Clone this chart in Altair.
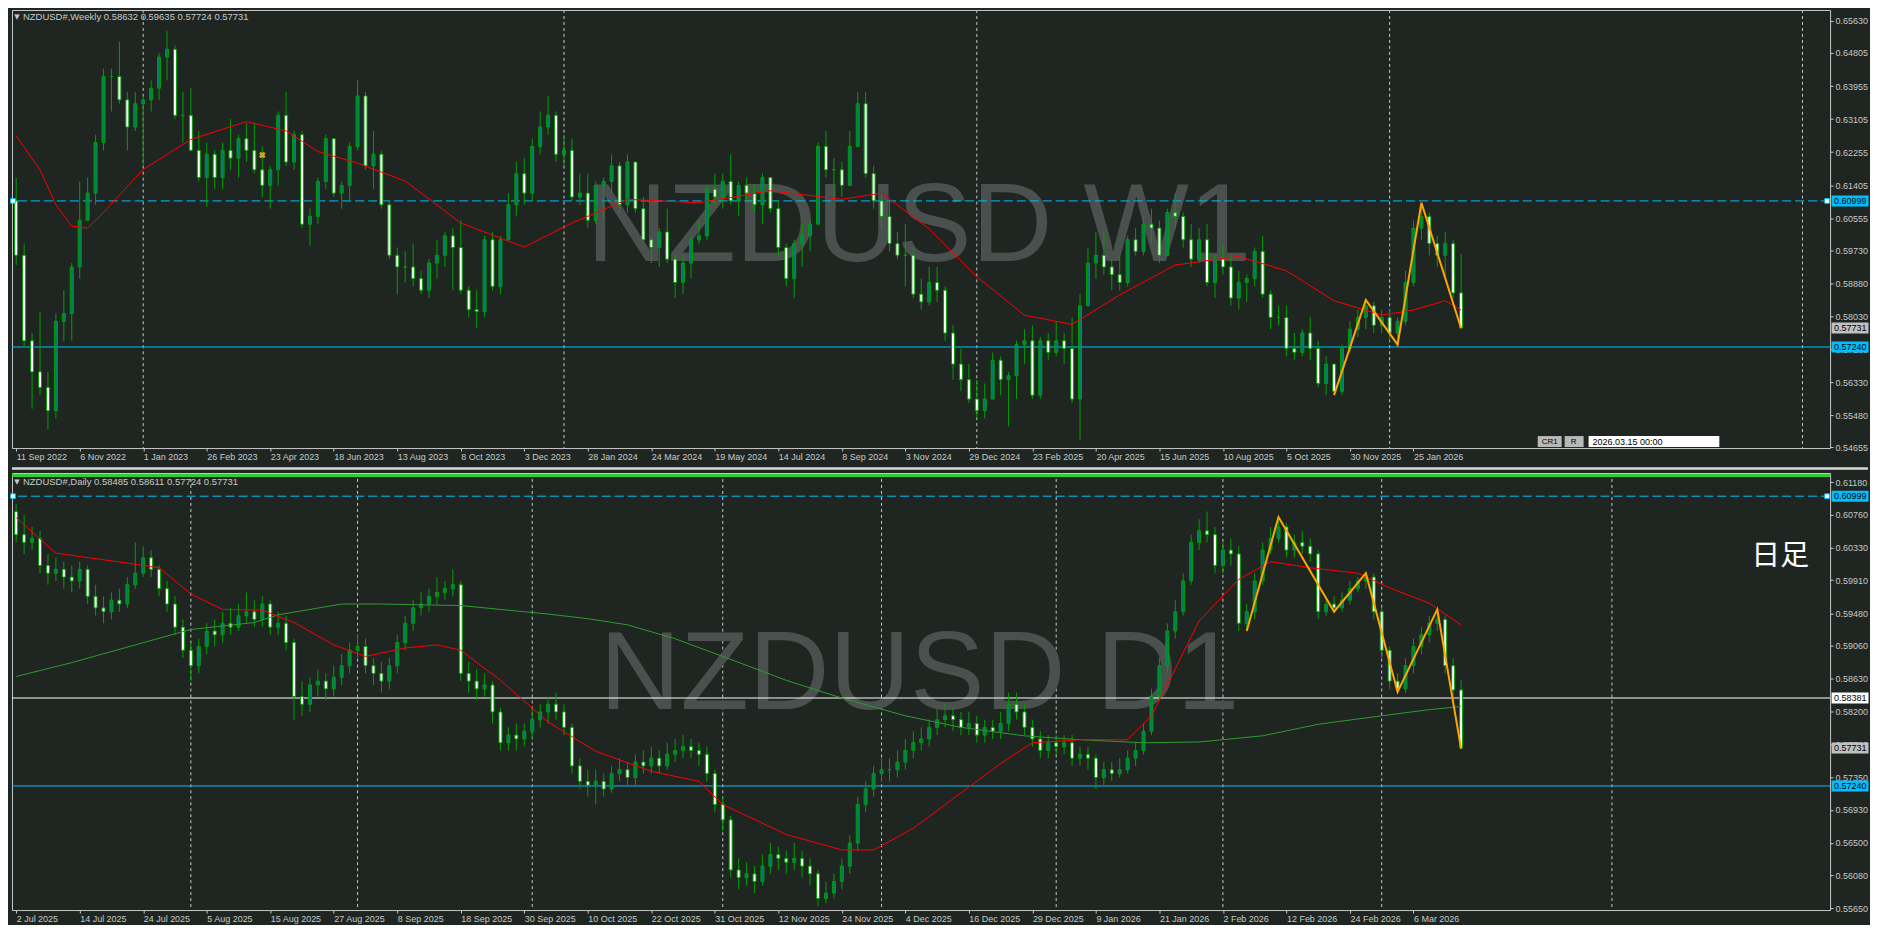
import json
import altair as alt
import pandas as pd

BG = "#1f2622"
FRAME = "#c8c8c8"
GREEN = "#00a000"
TEAL = "#007a70"
CYAN = "#00bfff"
TXT = "#c8c8c8"
FONT = "Liberation Sans"

W = 1822
H_TOP = 439
H_BOT = 438

# ---------------- tick labels ----------------
week_labels = ["11 Sep 2022", "6 Nov 2022", "1 Jan 2023", "26 Feb 2023", "23 Apr 2023", "18 Jun 2023",
               "13 Aug 2023", "8 Oct 2023", "3 Dec 2023", "28 Jan 2024", "24 Mar 2024", "19 May 2024",
               "14 Jul 2024", "8 Sep 2024", "3 Nov 2024", "29 Dec 2024", "23 Feb 2025", "20 Apr 2025",
               "15 Jun 2025", "10 Aug 2025", "5 Oct 2025", "30 Nov 2025", "25 Jan 2026"]
day_labels = ["2 Jul 2025", "14 Jul 2025", "24 Jul 2025", "5 Aug 2025", "15 Aug 2025", "27 Aug 2025",
              "8 Sep 2025", "18 Sep 2025", "30 Sep 2025", "10 Oct 2025", "22 Oct 2025", "31 Oct 2025",
              "12 Nov 2025", "24 Nov 2025", "4 Dec 2025", "16 Dec 2025", "29 Dec 2025", "9 Jan 2026",
              "21 Jan 2026", "2 Feb 2026", "12 Feb 2026", "24 Feb 2026", "6 Mar 2026"]
week_price_ticks = [0.6563, 0.64805, 0.63955, 0.63105, 0.62255, 0.61405, 0.60555, 0.5973, 0.5888,
                    0.5803, 0.5718, 0.5633, 0.5548, 0.54655]
day_price_ticks = [0.6118, 0.6076, 0.6033, 0.5991, 0.5948, 0.5906, 0.5863, 0.582, 0.5778, 0.5735,
                   0.5693, 0.565, 0.5608, 0.5565]

# ---------------- weekly candles ----------------
w_open_first = 0.6100
w_close = [0.5960, 0.5740, 0.5660, 0.5620, 0.5560, 0.5790, 0.5810, 0.5930, 0.6050, 0.6120,
           0.6250, 0.6420, 0.6420, 0.6360, 0.6290, 0.6350, 0.6360, 0.6390, 0.6470, 0.6490,
           0.6320, 0.6320, 0.6230, 0.6160, 0.6220, 0.6160, 0.6230, 0.6210, 0.6260, 0.6230,
           0.6180, 0.6140, 0.6180, 0.6320, 0.6200, 0.6270, 0.6040, 0.6060, 0.6150, 0.6260,
           0.6120, 0.6140, 0.6240, 0.6370, 0.6190, 0.6220, 0.6090, 0.5960, 0.5930, 0.5930,
           0.5900, 0.5870, 0.5940, 0.5960, 0.6010, 0.5980, 0.5870, 0.5820, 0.5815, 0.6000,
           0.5880, 0.6000, 0.6090, 0.6170, 0.6120, 0.6240, 0.6290, 0.6320, 0.6220, 0.6230,
           0.6110, 0.6120, 0.6050, 0.6140, 0.6150, 0.6190, 0.6090, 0.6200, 0.6080, 0.6000,
           0.5980, 0.6020, 0.5950, 0.5890, 0.5940, 0.6000, 0.6010, 0.6130, 0.6110, 0.6150,
           0.6100, 0.6140, 0.6120, 0.6090, 0.6160, 0.6080, 0.5980, 0.5900, 0.5990, 0.6010,
           0.6040, 0.6240, 0.6180, 0.6180, 0.6140, 0.6240, 0.6350, 0.6170, 0.6100, 0.6060,
           0.5990, 0.5960, 0.5960, 0.5860, 0.5840, 0.5890, 0.5870, 0.5760, 0.5680, 0.5640,
           0.5590, 0.5560, 0.5590, 0.5690, 0.5640, 0.5650, 0.5730, 0.5740, 0.5600, 0.5740,
           0.5710, 0.5740, 0.5720, 0.5590, 0.5830, 0.5940, 0.5960, 0.5930, 0.5910, 0.5890,
           0.6000, 0.5970, 0.6040, 0.6030, 0.5960, 0.6070, 0.6060, 0.6000, 0.5950, 0.6000,
           0.5890, 0.5950, 0.5930, 0.5850, 0.5890, 0.5900, 0.5970, 0.5860, 0.5800, 0.5800,
           0.5720, 0.5710, 0.5760, 0.5720, 0.5630, 0.5680, 0.5610, 0.5720, 0.5770, 0.5800,
           0.5830, 0.5780, 0.5800, 0.5760, 0.5790, 0.5890, 0.6030, 0.6060, 0.5990, 0.5960,
           0.5990, 0.58632, 0.57731]
w_high = [0.6160, 0.5990, 0.5760, 0.5815, 0.5660, 0.5810, 0.5870, 0.5940, 0.6150, 0.6160,
          0.6270, 0.6440, 0.6440, 0.6510, 0.6380, 0.6380, 0.6370, 0.6410, 0.6480, 0.6538,
          0.6500, 0.6380, 0.6390, 0.6280, 0.6250, 0.6230, 0.6250, 0.6310, 0.6270, 0.6300,
          0.6300, 0.6240, 0.6190, 0.6330, 0.6380, 0.6280, 0.6280, 0.6080, 0.6160, 0.6270,
          0.6240, 0.6150, 0.6250, 0.6410, 0.6380, 0.6280, 0.6230, 0.6100, 0.5980, 0.5970,
          0.5990, 0.5920, 0.5950, 0.6000, 0.6020, 0.6030, 0.6050, 0.5880, 0.5870, 0.6010,
          0.6020, 0.6010, 0.6120, 0.6200, 0.6210, 0.6260, 0.6330, 0.6370, 0.6330, 0.6270,
          0.6260, 0.6170, 0.6170, 0.6150, 0.6160, 0.6220, 0.6200, 0.6220, 0.6200, 0.6110,
          0.6010, 0.6030, 0.6080, 0.5960, 0.5960, 0.6010, 0.6050, 0.6140, 0.6170, 0.6170,
          0.6220, 0.6150, 0.6160, 0.6140, 0.6170, 0.6160, 0.6100, 0.5990, 0.6000, 0.6040,
          0.6050, 0.6250, 0.6280, 0.6210, 0.6200, 0.6280, 0.6380, 0.6380, 0.6190, 0.6120,
          0.6100, 0.6020, 0.6040, 0.5980, 0.5900, 0.5930, 0.5930, 0.5880, 0.5780, 0.5720,
          0.5680, 0.5640, 0.5630, 0.5710, 0.5700, 0.5660, 0.5740, 0.5770, 0.5780, 0.5750,
          0.5760, 0.5790, 0.5760, 0.5800, 0.5860, 0.5980, 0.6020, 0.6020, 0.5950, 0.5960,
          0.6010, 0.6030, 0.6060, 0.6080, 0.6050, 0.6080, 0.6120, 0.6070, 0.6040, 0.6030,
          0.6040, 0.5960, 0.5990, 0.5960, 0.5920, 0.5910, 0.5980, 0.6010, 0.5870, 0.5830,
          0.5830, 0.5760, 0.5770, 0.5800, 0.5740, 0.5700, 0.5680, 0.5730, 0.5790, 0.5820,
          0.5845, 0.5840, 0.5820, 0.5820, 0.5800, 0.5920, 0.6050, 0.6095, 0.6070, 0.6010,
          0.6020, 0.6000, 0.59635]
w_low = [0.5935, 0.5725, 0.5565, 0.5600, 0.5512, 0.5540, 0.5740, 0.5740, 0.5900, 0.6060,
         0.6090, 0.6230, 0.6330, 0.6350, 0.6230, 0.6280, 0.6190, 0.6330, 0.6360, 0.6410,
         0.6310, 0.6250, 0.6230, 0.6150, 0.6085, 0.6130, 0.6130, 0.6180, 0.6160, 0.6200,
         0.6170, 0.6110, 0.6080, 0.6140, 0.6190, 0.6180, 0.6030, 0.5985, 0.6040, 0.6130,
         0.6110, 0.6080, 0.6100, 0.6230, 0.6180, 0.6130, 0.6080, 0.5950, 0.5860, 0.5890,
         0.5880, 0.5860, 0.5850, 0.5900, 0.5930, 0.5870, 0.5860, 0.5800, 0.5772, 0.5800,
         0.5870, 0.5860, 0.6000, 0.6060, 0.6090, 0.6100, 0.6220, 0.6270, 0.6200, 0.6190,
         0.6100, 0.6090, 0.6030, 0.6040, 0.6050, 0.6120, 0.6070, 0.6070, 0.6070, 0.5990,
         0.5940, 0.5930, 0.5940, 0.5850, 0.5860, 0.5900, 0.5990, 0.6000, 0.6090, 0.6080,
         0.6090, 0.6060, 0.6100, 0.6070, 0.6040, 0.6070, 0.5960, 0.5880, 0.5850, 0.5930,
         0.5970, 0.6040, 0.6160, 0.6100, 0.6110, 0.6140, 0.6240, 0.6160, 0.6080, 0.6030,
         0.5970, 0.5950, 0.5880, 0.5850, 0.5820, 0.5830, 0.5840, 0.5740, 0.5640, 0.5610,
         0.5580, 0.5540, 0.5540, 0.5590, 0.5600, 0.5520, 0.5590, 0.5680, 0.5590, 0.5590,
         0.5690, 0.5700, 0.5680, 0.5580, 0.5485, 0.5830, 0.5900, 0.5910, 0.5870, 0.5870,
         0.5880, 0.5960, 0.5960, 0.5990, 0.5940, 0.5960, 0.6030, 0.5980, 0.5930, 0.5940,
         0.5880, 0.5850, 0.5910, 0.5830, 0.5820, 0.5840, 0.5880, 0.5850, 0.5770, 0.5780,
         0.5700, 0.5690, 0.5700, 0.5690, 0.5620, 0.5600, 0.5600, 0.5600, 0.5710, 0.5750,
         0.5770, 0.5760, 0.5760, 0.5740, 0.5730, 0.5780, 0.5880, 0.6000, 0.5960, 0.5930,
         0.5900, 0.5850, 0.57724]

# weekly red moving average, read at points: (bar, price)
w_ma_bar = [0, 3, 5, 7, 9, 11, 13, 16, 22, 29, 34, 38, 43, 49, 56, 64, 70, 77, 86, 95, 104, 109,
            115, 121, 127, 133, 139, 146, 154, 160, 166, 172, 176, 180, 182]
w_ma_val = [0.6267, 0.6180, 0.6090, 0.6035, 0.6030, 0.6070, 0.6115, 0.6181, 0.6258, 0.6304,
            0.6280, 0.6227, 0.6197, 0.6151, 0.6043, 0.5981, 0.6043, 0.6104, 0.6095, 0.6126,
            0.6104, 0.6120, 0.6028, 0.5905, 0.5806, 0.5782, 0.5858, 0.5935, 0.5957, 0.5920,
            0.5843, 0.5806, 0.5819, 0.5843, 0.5819]
w_zz_bar = [166, 170, 174, 177, 182]
w_zz_val = [0.5600, 0.5845, 0.5730, 0.6095, 0.57724]
w_year_bars = [16, 69, 121, 173, 225]
# small chart object (arrow marker) on the weekly chart
w_obj_bar = [31.0]
w_obj_val = [0.6218]

# ---------------- daily candles ----------------
d_open_first = 0.6080
d_close = [0.6050, 0.6040, 0.6045, 0.6010, 0.6000, 0.6005, 0.5995, 0.5990, 0.6005, 0.5970,
           0.5955, 0.5950, 0.5965, 0.5960, 0.5985, 0.6000, 0.6020, 0.6005, 0.5980, 0.5960,
           0.5930, 0.5900, 0.5880, 0.5905, 0.5925, 0.5920, 0.5935, 0.5930, 0.5945, 0.5950,
           0.5940, 0.5960, 0.5930, 0.5935, 0.5910, 0.5840, 0.5830, 0.5855, 0.5860, 0.5850,
           0.5865, 0.5880, 0.5900, 0.5905, 0.5880, 0.5870, 0.5860, 0.5880, 0.5910, 0.5935,
           0.5955, 0.5960, 0.5970, 0.5975, 0.5980, 0.5985, 0.5870, 0.5860, 0.5850, 0.5855,
           0.5820, 0.5780, 0.5790, 0.5785, 0.5795, 0.5810, 0.5820, 0.5830, 0.5820, 0.5800,
           0.5750, 0.5730, 0.5725, 0.5730, 0.5720, 0.5740, 0.5745, 0.5735, 0.5755, 0.5750,
           0.5760, 0.5750, 0.5765, 0.5770, 0.5775, 0.5770, 0.5765, 0.5740, 0.5700, 0.5680,
           0.5615, 0.5605, 0.5610, 0.5600, 0.5620, 0.5635, 0.5630, 0.5625, 0.5630, 0.5620,
           0.5610, 0.5578, 0.5585, 0.5600, 0.5620, 0.5650, 0.5700, 0.5720, 0.5740, 0.5745,
           0.5745, 0.5755, 0.5770, 0.5780, 0.5785, 0.5800, 0.5810, 0.5815, 0.5810, 0.5800,
           0.5805, 0.5790, 0.5800, 0.5795, 0.5805, 0.5830, 0.5820, 0.5800, 0.5785, 0.5770,
           0.5780, 0.5775, 0.5780, 0.5760, 0.5765, 0.5760, 0.5735, 0.5745, 0.5740, 0.5745,
           0.5760, 0.5770, 0.5795, 0.5840, 0.5880, 0.5925, 0.5950, 0.5990, 0.6040, 0.6055,
           0.6050, 0.6010, 0.6030, 0.6025, 0.5935, 0.5950, 0.5990, 0.6030, 0.6045, 0.6060,
           0.6030, 0.6040, 0.6035, 0.6025, 0.5950, 0.5960, 0.5955, 0.5965, 0.5980, 0.5990,
           0.5995, 0.5950, 0.5900, 0.5860, 0.5850, 0.5880, 0.5905, 0.5920, 0.5935, 0.5940,
           0.5880, 0.58485, 0.57731]
d_high = [0.6090, 0.6075, 0.6060, 0.6055, 0.6025, 0.6020, 0.6015, 0.6010, 0.6015, 0.6010,
          0.5985, 0.5970, 0.5975, 0.5980, 0.5995, 0.6040, 0.6035, 0.6030, 0.6010, 0.5990,
          0.5970, 0.5940, 0.5910, 0.5915, 0.5935, 0.5940, 0.5950, 0.5955, 0.5960, 0.5975,
          0.5965, 0.5970, 0.5965, 0.5950, 0.5945, 0.5915, 0.5860, 0.5865, 0.5875, 0.5870,
          0.5880, 0.5895, 0.5910, 0.5920, 0.5915, 0.5890, 0.5885, 0.5890, 0.5920, 0.5945,
          0.5965, 0.5975, 0.5980, 0.5995, 0.5990, 0.6005, 0.5990, 0.5885, 0.5875, 0.5870,
          0.5860, 0.5825, 0.5800, 0.5805, 0.5805, 0.5825, 0.5830, 0.5840, 0.5845, 0.5830,
          0.5805, 0.5760, 0.5745, 0.5745, 0.5740, 0.5750, 0.5760, 0.5755, 0.5765, 0.5770,
          0.5775, 0.5770, 0.5780, 0.5785, 0.5790, 0.5785, 0.5780, 0.5775, 0.5745, 0.5710,
          0.5685, 0.5630, 0.5625, 0.5620, 0.5635, 0.5650, 0.5645, 0.5640, 0.5650, 0.5640,
          0.5630, 0.5615, 0.5600, 0.5610, 0.5630, 0.5660, 0.5710, 0.5730, 0.5750, 0.5760,
          0.5760, 0.5770, 0.5785, 0.5795, 0.5800, 0.5810, 0.5825, 0.5830, 0.5825, 0.5820,
          0.5820, 0.5815, 0.5810, 0.5810, 0.5820, 0.5845, 0.5845, 0.5830, 0.5810, 0.5795,
          0.5790, 0.5790, 0.5790, 0.5790, 0.5775, 0.5775, 0.5765, 0.5755, 0.5755, 0.5760,
          0.5770, 0.5780, 0.5805, 0.5850, 0.5890, 0.5935, 0.5965, 0.6000, 0.6050, 0.6070,
          0.6080, 0.6060, 0.6040, 0.6045, 0.6035, 0.5960, 0.6000, 0.6040, 0.6060, 0.6073,
          0.6065, 0.6050, 0.6055, 0.6045, 0.6030, 0.5970, 0.5970, 0.5975, 0.5990, 0.5995,
          0.6000, 0.6000, 0.5955, 0.5905, 0.5870, 0.5890, 0.5915, 0.5930, 0.5945, 0.5953,
          0.5945, 0.5890, 0.58611]
d_low = [0.6040, 0.6025, 0.6030, 0.6000, 0.5985, 0.5990, 0.5980, 0.5975, 0.5980, 0.5960,
         0.5945, 0.5935, 0.5940, 0.5950, 0.5955, 0.5980, 0.5995, 0.5995, 0.5970, 0.5950,
         0.5920, 0.5890, 0.5860, 0.5870, 0.5895, 0.5905, 0.5910, 0.5920, 0.5925, 0.5935,
         0.5930, 0.5930, 0.5920, 0.5920, 0.5900, 0.5810, 0.5815, 0.5820, 0.5840, 0.5835,
         0.5840, 0.5855, 0.5870, 0.5890, 0.5870, 0.5855, 0.5845, 0.5850, 0.5870, 0.5900,
         0.5925, 0.5945, 0.5950, 0.5960, 0.5965, 0.5970, 0.5860, 0.5845, 0.5835, 0.5840,
         0.5805, 0.5770, 0.5770, 0.5770, 0.5775, 0.5785, 0.5800, 0.5805, 0.5810, 0.5790,
         0.5740, 0.5720, 0.5710, 0.5700, 0.5710, 0.5715, 0.5730, 0.5725, 0.5725, 0.5740,
         0.5740, 0.5740, 0.5745, 0.5755, 0.5760, 0.5760, 0.5750, 0.5730, 0.5690, 0.5665,
         0.5605, 0.5590, 0.5595, 0.5585, 0.5595, 0.5610, 0.5615, 0.5610, 0.5615, 0.5605,
         0.5595, 0.5568, 0.5572, 0.5578, 0.5590, 0.5610, 0.5640, 0.5690, 0.5710, 0.5730,
         0.5730, 0.5735, 0.5745, 0.5760, 0.5770, 0.5775, 0.5790, 0.5800, 0.5795, 0.5790,
         0.5790, 0.5780, 0.5780, 0.5785, 0.5785, 0.5795, 0.5810, 0.5790, 0.5775, 0.5760,
         0.5760, 0.5765, 0.5765, 0.5750, 0.5750, 0.5745, 0.5720, 0.5725, 0.5730, 0.5735,
         0.5740, 0.5750, 0.5765, 0.5790, 0.5835, 0.5870, 0.5915, 0.5945, 0.5985, 0.6030,
         0.6040, 0.6000, 0.6000, 0.6010, 0.5925, 0.5925, 0.5940, 0.5985, 0.6025, 0.6040,
         0.6020, 0.6020, 0.6025, 0.6015, 0.5940, 0.5945, 0.5950, 0.5950, 0.5960, 0.5975,
         0.5980, 0.5940, 0.5890, 0.5850, 0.5846, 0.5845, 0.5870, 0.5895, 0.5910, 0.5925,
         0.5870, 0.5840, 0.57724]

# daily moving averages, read at points: (bar, price)
d_red_bar = [0, 5, 14, 18, 22, 26, 31, 35, 40, 44, 49, 53, 56, 61, 67, 73, 80, 86, 89, 97,
             104, 108, 113, 119, 124, 128, 134, 140, 143, 146, 149, 154, 158, 163, 169, 173, 178, 182]
d_red_val = [0.6072, 0.6026, 0.6013, 0.6007, 0.5973, 0.5953, 0.5952, 0.5936, 0.5907, 0.5892,
             0.5903, 0.5907, 0.5900, 0.5861, 0.5807, 0.5769, 0.5743, 0.5730, 0.5700, 0.5661,
             0.5641, 0.5641, 0.5669, 0.5715, 0.5753, 0.5780, 0.5784, 0.5784, 0.5815, 0.5876,
             0.5938, 0.5992, 0.6015, 0.6007, 0.6000, 0.5981, 0.5961, 0.5933]
d_green_bar = [0, 7, 15, 22, 30, 33, 41, 46, 56, 61, 67, 72, 77, 83, 89, 97, 104, 112, 119,
               127, 134, 142, 149, 157, 164, 172, 178, 182]
d_green_val = [0.5866, 0.5884, 0.5907, 0.5927, 0.5936, 0.5946, 0.5960, 0.5960, 0.5958, 0.5953,
               0.5947, 0.5941, 0.5933, 0.5915, 0.5892, 0.5861, 0.5838, 0.5815, 0.5800, 0.5789,
               0.5784, 0.5780, 0.5781, 0.5789, 0.5804, 0.5815, 0.5823, 0.5827]
d_zz_bar = [155, 159, 166, 170, 174, 179, 182]
d_zz_val = [0.5925, 0.6073, 0.5950, 0.6000, 0.5846, 0.5953, 0.57724]
d_month_bars = [22, 43, 65, 89, 109, 131, 152, 172, 201]

# ---------------- helpers ----------------
x_scale = alt.Scale(domain=[0.1, 0.1 + W / 8.0], nice=False, zero=False)
yw_scale = alt.Scale(domain=[0.5464, 0.65912], nice=False, zero=False)
yd_scale = alt.Scale(domain=[0.5563, 0.6130], nice=False, zero=False)


def x_axis(labels):
    arr = json.dumps(labels)
    return alt.Axis(values=list(range(0, 8 * len(labels), 8)), labelExpr=arr + "[round(datum.value/8)]",
                    orient="bottom", grid=False, domain=False, tickSize=3, tickColor=FRAME,
                    labelAlign="left", labelBaseline="top", labelPadding=1, labelFont=FONT,
                    labelFontSize=9, labelColor=TXT, labelOverlap=False, title=None)


def y_axis(vals):
    return alt.Axis(values=vals, format=".5f", orient="right", grid=False, domain=False, tickSize=3,
                    tickColor=FRAME, labelPadding=2, labelFont=FONT, labelFontSize=9, labelColor=TXT,
                    labelOverlap=False, labelBaseline="middle", title=None)


def make_candles(o0, close, high, low):
    opens = [o0] + close[:-1]
    return pd.DataFrame({"i": list(range(len(close))), "open": opens, "close": close, "high": high,
                         "low": low, "dir": ["up" if c > o else "down" for o, c in zip(opens, close)]})


def panel(df, ysc, xax, yax, ma_lines, zz_bar, zz_val, sep_bars, hlines, boxes, extra, height):
    X = lambda f: alt.X(f, type="quantitative", scale=x_scale, axis=xax, title=None)
    Y = lambda f: alt.Y(f, type="quantitative", scale=ysc, axis=yax, title=None)
    layers = []
    layers.append(alt.Chart(pd.DataFrame({"i": sep_bars})).mark_rule(
        color=FRAME, strokeWidth=1, strokeDash=[3, 3], clip=True).encode(x=X("i")))
    layers += extra["under"]
    for p, col, dash in hlines:
        kw = {"strokeDash": dash} if dash else {}
        layers.append(alt.Chart(pd.DataFrame({"p": [p]})).mark_rule(
            color=col, strokeWidth=1, clip=True, **kw).encode(y=Y("p")))
    layers.append(alt.Chart(df).mark_rule(color=GREEN, strokeWidth=1, clip=True).encode(
        x=X("i"), y=Y("low"), y2="high"))
    layers.append(alt.Chart(df).mark_bar(size=3, stroke=GREEN, strokeWidth=1, clip=True).encode(
        x=X("i"), y=Y("open"), y2="close",
        fill=alt.Fill("dir:N", scale=alt.Scale(domain=["up", "down"], range=[TEAL, "#ffffff"]),
                      legend=None)))
    for bars, vals, col in ma_lines:
        layers.append(alt.Chart(pd.DataFrame({"i": bars, "p": vals})).mark_line(
            color=col, strokeWidth=1, clip=True).encode(x=X("i"), y=Y("p")))
    layers.append(alt.Chart(pd.DataFrame({"i": zz_bar, "p": zz_val})).mark_line(
        color="#ffa500", strokeWidth=2, clip=True).encode(x=X("i"), y=Y("p")))
    # end markers of the dashed level line
    layers.append(alt.Chart(pd.DataFrame({"p": [0.60999, 0.60999], "px": [1, W - 3]})).mark_square(
        size=22, fill="#ffffff", stroke=CYAN, strokeWidth=1, opacity=1).encode(
        x=alt.X("px:Q", scale=None), y=Y("p")))
    # price boxes on the right axis
    bdf = pd.DataFrame(boxes, columns=["p", "bg", "t"])
    layers.append(alt.Chart(bdf).mark_tick(orient="horizontal", size=37, thickness=11, filled=True,
                                           opacity=1).encode(
        x=alt.value(W + 20), y=Y("p"), color=alt.Color("bg:N", scale=None)))
    layers.append(alt.Chart(bdf).mark_text(align="left", baseline="middle", font=FONT, fontSize=9,
                                           color="#000000").encode(
        x=alt.value(W + 4), y=Y("p"), text="t:N"))
    layers += [f(X, Y) for f in extra["over_xy"]]
    layers += extra["over"]
    return alt.layer(*layers).properties(width=W, height=height)


def txt(s, x, y, size, color, align="left", baseline="middle", font=FONT, **kw):
    return alt.Chart(pd.DataFrame({"k": [0]})).mark_text(
        text=s, align=align, baseline=baseline, font=font, fontSize=size, color=color, **kw).encode(
        x=alt.value(x), y=alt.value(y))


def box(x1, x2, y1, y2, fill):
    return alt.Chart(pd.DataFrame({"k": [0]})).mark_rect(fill=fill).encode(
        x=alt.value(x1), x2=alt.value(x2), y=alt.value(y1), y2=alt.value(y2))


WM = "#4a504d"

wdf = make_candles(w_open_first, w_close, w_high, w_low)
ddf = make_candles(d_open_first, d_close, d_high, d_low)

top_extra = {
    "under": [txt("NZDUSD W1", 576, 252, 112, WM, baseline="alphabetic")],
    "over_xy": [
        lambda X, Y: alt.Chart(pd.DataFrame({"i": w_obj_bar, "p": w_obj_val})).mark_point(
            shape="cross", angle=45, size=45, filled=True, color="#d8a020", opacity=1).encode(
            x=X("i"), y=Y("p")),
    ],
    "over": [
        txt("\u25BC", 5, 7, 7, TXT, align="center", font="DejaVu Sans"),
        txt("NZDUSD#,Weekly  0.58632 0.59635 0.57724 0.57731", 11, 7, 9.5, TXT),
        box(1529, 1553, 427, 438, "#b8b8b8"),
        txt("CR1", 1533, 432.5, 8, "#000000"),
        box(1556, 1575, 427, 438, "#b8b8b8"),
        txt("R", 1562, 432.5, 8, "#000000"),
        box(1580, 1711, 427, 438, "#ffffff"),
        txt("2026.03.15 00:00", 1584, 432.5, 9, "#000000"),
    ],
}
top = panel(wdf, yw_scale, x_axis(week_labels), y_axis(week_price_ticks),
            [(w_ma_bar, w_ma_val, "#ff0000")], w_zz_bar, w_zz_val, w_year_bars,
            [(0.60999, CYAN, [9, 4]), (0.5724, CYAN, None)],
            [(0.60999, CYAN, "0.60999"), (0.57731, "#c0c0c0", "0.57731"), (0.5724, CYAN, "0.57240")],
            top_extra, H_TOP)

bot_extra = {
    "under": [txt("NZDUSD D1", 589, 237, 112, WM, baseline="alphabetic")],
    "over_xy": [],
    "over": [
        alt.Chart(pd.DataFrame({"k": [0]})).mark_rule(color="#32cd32", strokeWidth=3).encode(
            x=alt.value(0), x2=alt.value(W), y=alt.value(2.5)),
        alt.Chart(pd.DataFrame({"k": [0]})).mark_rule(color="#d8d8d8", strokeWidth=2.5).encode(
            x=alt.value(0), x2=alt.value(W + 38), y=alt.value(-4.5)),
        txt("\u25BC", 5, 9, 7, TXT, align="center", font="DejaVu Sans"),
        txt("NZDUSD#,Daily  0.58485 0.58611 0.57724 0.57731", 11, 9, 9.5, TXT),
        txt("日足", 1743, 83, 29, "#ffffff", align="left", font="Noto Sans CJK JP"),
    ],
}
bot = panel(ddf, yd_scale, x_axis(day_labels), y_axis(day_price_ticks),
            [(d_green_bar, d_green_val, "#2f9a2f"), (d_red_bar, d_red_val, "#ff0000")],
            d_zz_bar, d_zz_val, d_month_bars,
            [(0.60999, CYAN, [9, 4]), (0.58381, "#ffffff", None), (0.5724, CYAN, None)],
            [(0.60999, CYAN, "0.60999"), (0.58381, "#ffffff", "0.58381"),
             (0.57731, "#c0c0c0", "0.57731"), (0.5724, CYAN, "0.57240")],
            bot_extra, H_BOT)

chart = alt.vconcat(top, bot, spacing=25, bounds="flush").properties(
    padding=0, background=BG
).configure_view(stroke=FRAME, strokeWidth=1, fill=BG)

chart.save("out.html", embed_options={"renderer": "svg", "actions": False})
